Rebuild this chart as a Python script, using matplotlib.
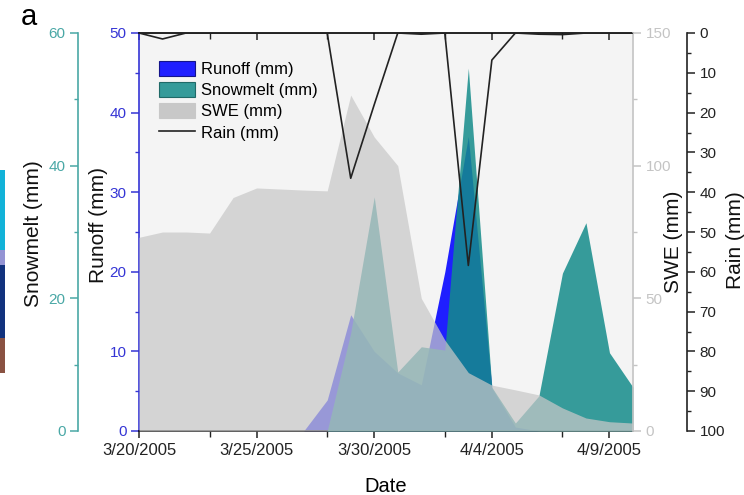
import numpy as np
import pandas as pd
import matplotlib
matplotlib.use('Agg')
import matplotlib.pyplot as plt
from matplotlib.patches import Patch, Rectangle
from matplotlib.lines import Line2D
from matplotlib.ticker import FixedLocator, MultipleLocator, FuncFormatter
import matplotlib.dates as mdates

plt.rcParams['font.family'] = ['Liberation Sans', 'DejaVu Sans']

#%% data (daily, 3/20/2005 - 4/10/2005)
dates = pd.date_range('2005-03-20', '2005-04-10', freq='D')
runoff = [0, 0, 0, 0, 0, 0, 0, 0, 3.9, 14.6, 10.0, 7.3, 5.8, 20.0, 37.0,
          5.4, 0.5, 0, 0, 0, 0, 0]
snowmelt = [0, 0, 0, 0, 0, 0, 0, 0, 0, 14.8, 35.3, 8.9, 12.7, 12.2, 54.7,
            6.6, 1.2, 5.3, 23.8, 31.4, 11.8, 6.6]
swe = [73, 75, 75, 74.6, 88, 91.6, 91.2, 90.8, 90.5, 126.6, 110.8, 100,
       50, 34.3, 22, 17.3, 15.5, 13.6, 8.7, 4.9, 3.5, 3]
rain = [0, 1.5, 0, 0, 0, 0, 0, 0, 0, 36.5, 18, 0, 0.3, 0, 58.4, 6.8, 0,
        0.3, 0.4, 0, 0, 0]

run_c = '#1f1fff'
snow_c = '#148c8a'
swe_c = '#c8c8c8'
run_ax_c = '#3535d5'
snow_ax_c = '#4aa8a6'
swe_ax_c = '#c4c4c4'

#%% figure
fig = plt.figure(figsize=(7.44, 4.95), dpi=100)
W, H = 744, 495
x0, x1, y0, y1 = 139, 633, 33, 431
ax = fig.add_axes([x0 / W, 1 - y1 / H, (x1 - x0) / W, (y1 - y0) / H])
ax.set_facecolor('#f4f4f4')
ax_snow = ax.twinx()
ax_swe = ax.twinx()
ax_rain = ax.twinx()

x = mdates.date2num(dates)

# runoff (bottom layer)
ax.fill_between(x, 0, runoff, color=run_c, lw=0)
ax.set_ylim(0, 50)
ax.set_xlim(x[0], x[-1])

# snowmelt
ax_snow.fill_between(x, 0, snowmelt, color=snow_c, alpha=0.85, lw=0)
ax_snow.set_ylim(0, 60)

# SWE on top, semi transparent
ax_swe.fill_between(x, 0, swe, color=swe_c, alpha=0.72, lw=0)
ax_swe.set_ylim(0, 150)

# rain, inverted
ax_rain.plot(x, rain, color='#222222', lw=1.2)
ax_rain.set_ylim(100, 0)

#%% axes styling
for a in (ax_snow, ax_swe, ax_rain):
    for s in a.spines.values():
        s.set_visible(False)

def style_y(a, col, major, minor):
    a.yaxis.set_major_locator(MultipleLocator(major))
    a.yaxis.set_minor_locator(MultipleLocator(minor))
    a.tick_params(axis='y', which='both', colors=col, labelsize=11)
    a.tick_params(axis='y', which='major', length=5.5, width=1.1)
    a.tick_params(axis='y', which='minor', length=3, width=1.0)

# runoff axis (left, inner)
ax.spines['right'].set_visible(False)
ax.spines['left'].set_color(run_ax_c)
for s in ('left', 'bottom', 'top'):
    ax.spines[s].set_linewidth(1.2)
style_y(ax, run_ax_c, 10, 5)

major_days = dates[::5]
minor_days = dates[3::5]
ax.xaxis.set_major_locator(FixedLocator(mdates.date2num(major_days)))
ax.xaxis.set_minor_locator(FixedLocator(mdates.date2num(minor_days)))
ax.xaxis.set_major_formatter(FuncFormatter(
    lambda v, p: '{d.month}/{d.day}/{d.year}'.format(d=mdates.num2date(v))))
ax.tick_params(axis='x', which='both', top=True, labelsize=12, colors='#222222')
ax.tick_params(axis='x', which='major', length=5, width=1.1)
ax.tick_params(axis='x', which='minor', length=4, width=1.0)
for t in ax.xaxis.get_ticklines(minor=False)[1::2]:
    t.set_marker(3)
for t in ax.xaxis.get_ticklines(minor=True)[1::2]:
    t.set_marker(3)
ax.set_xlabel('Date', fontsize=14.5, labelpad=14)

# snowmelt axis (left, outer)
ax_snow.spines['left'].set_visible(True)
ax_snow.spines['left'].set_position(('outward', 44))
ax_snow.spines['left'].set_color(snow_ax_c)
ax_snow.spines['left'].set_linewidth(1.2)
ax_snow.yaxis.set_ticks_position('left')
ax_snow.yaxis.set_label_position('left')
style_y(ax_snow, snow_ax_c, 20, 10)

# SWE axis (right, inner)
ax_swe.spines['right'].set_visible(True)
ax_swe.spines['right'].set_color(swe_ax_c)
ax_swe.spines['right'].set_linewidth(1.2)
style_y(ax_swe, swe_ax_c, 50, 25)

# rain axis (right, outer)
ax_rain.spines['right'].set_visible(True)
ax_rain.spines['right'].set_position(('outward', 39))
ax_rain.spines['right'].set_color('#222222')
ax_rain.spines['right'].set_linewidth(1.2)
style_y(ax_rain, '#222222', 10, 5)

# y labels, centred where they sit in the picture (pixels)
def px_to_ax(px, py):
    return (px - x0) / (x1 - x0), (y1 - py) / (y1 - y0)

for a, text, px, py in [(ax_snow, 'Snowmelt (mm)', 34, 234),
                        (ax, 'Runoff (mm)', 98, 225),
                        (ax_swe, 'SWE (mm)', 673, 242),
                        (ax_rain, 'Rain (mm)', 735, 240)]:
    a.set_ylabel(text, fontsize=15, color='#111111')
    a.yaxis.set_label_coords(*px_to_ax(px, py))
    a.yaxis.label.set_va('center')
    a.yaxis.label.set_ha('center')

#%% legend
handles = [Patch(facecolor=run_c, edgecolor='#14148a', lw=0.8),
           Patch(facecolor=snow_c, alpha=0.85, edgecolor='#0c5a58', lw=0.8),
           Patch(facecolor=swe_c, edgecolor='#c8c8c8', lw=0.8),
           Line2D([], [], color='#222222', lw=1.2)]
labels = ['Runoff (mm)', 'Snowmelt (mm)', 'SWE (mm)', 'Rain (mm)']
ax_rain.legend(handles, labels, loc='upper left', bbox_to_anchor=(0.04, 0.93),
               frameon=False, fontsize=12, handlelength=2.2, handleheight=1.0,
               handletextpad=0.35, labelspacing=0.3, borderpad=0,
               borderaxespad=0)

#%% panel letter and cropped neighbour strip
fig.text(21 / W, 1 - 25 / H, 'a', fontsize=21, va='baseline', ha='left')
strip = [(170, 250, '#12b2d8'), (250, 265, '#9494d4'),
         (265, 338, '#12327e'), (338, 373, '#8a5242')]
for top, bot, c in strip:
    fig.patches.append(Rectangle((0, 1 - bot / H), 5 / W, (bot - top) / H,
                                 transform=fig.transFigure, color=c, lw=0))

fig.savefig('out.png', dpi=100)
